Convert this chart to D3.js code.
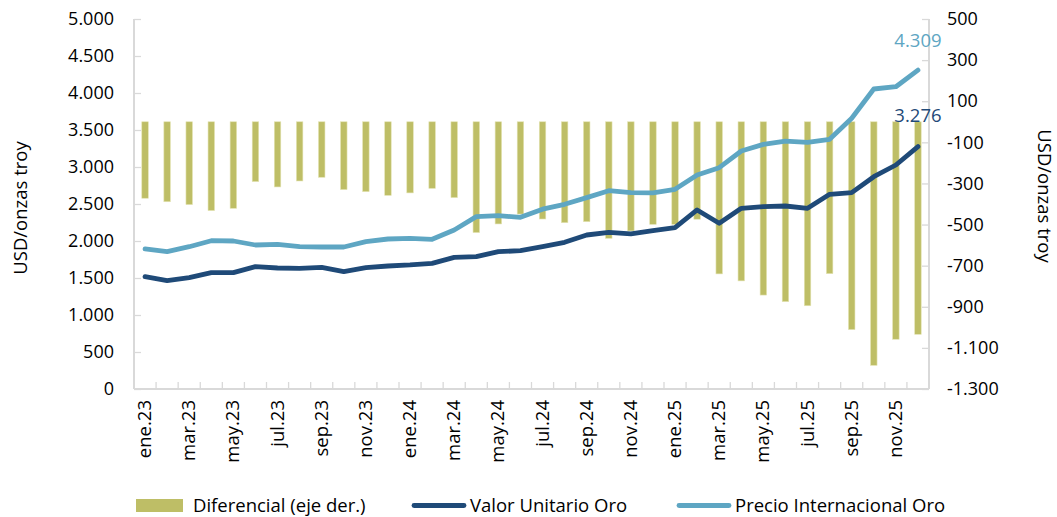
<!DOCTYPE html>
<html>
<head>
<meta charset="utf-8">
<script src="https://cdn.jsdelivr.net/npm/d3@7"></script>
<style>
  html, body { margin: 0; padding: 0; background: #fff; }
  svg { display: block; }
  text { font-family: "Open Sans", sans-serif; fill: #000; }
</style>
</head>
<body>
<svg id="chart" width="1057" height="517"></svg>
<script>
const months = ["ene.23","feb.23","mar.23","abr.23","may.23","jun.23","jul.23","ago.23","sep.23","oct.23","nov.23","dic.23",
                "ene.24","feb.24","mar.24","abr.24","may.24","jun.24","jul.24","ago.24","sep.24","oct.24","nov.24","dic.24",
                "ene.25","feb.25","mar.25","abr.25","may.25","jun.25","jul.25","ago.25","sep.25","oct.25","nov.25","dic.25"];
const valorUnitario = [1518,1464,1504,1572,1572,1653,1635,1631,1644,1585,1640,1662,
                       1676,1698,1779,1788,1856,1869,1923,1982,2081,2117,2095,2140,
                       2180,2419,2239,2442,2464,2473,2442,2631,2653,2869,3027,3276];
const precioInternacional = [1892,1856,1923,2004,2000,1946,1955,1923,1919,1919,1991,2027,
                             2036,2023,2149,2329,2342,2320,2430,2496,2586,2680,2653,2649,
                             2698,2892,2991,3216,3306,3351,3333,3374,3658,4054,4085,4309];
const diferencial = [-372,-389,-403,-432,-421,-291,-317,-288,-270,-330,-340,-358,
                     -346,-324,-369,-539,-497,-449,-473,-491,-486,-567,-531,-499,
                     -499,-474,-740,-774,-843,-875,-895,-739,-1011,-1185,-1058,-1034];
const leftTicks = [0,500,1000,1500,2000,2500,3000,3500,4000,4500,5000];
const rightTicks = [-1300,-1100,-900,-700,-500,-300,-100,100,300,500];
const legendLabels = ["Diferencial (eje der.)","Valor Unitario Oro","Precio Internacional Oro"];
const axisTitle = "USD/onzas troy";

const C_BAR = "#BEBE66", C_DARK = "#1F4A78", C_LIGHT = "#5EA6C3", C_AXIS = "#D9D9D9";
const fmt = d3.formatLocale({decimal: ",", thousands: ".", grouping: [3], currency: ["", ""], minus: "-"}).format(",d");

const svg = d3.select("#chart");
const L = 134, R = 929, T = 19, B = 389;

const x = d3.scaleBand().domain(months).range([L, R]).paddingInner(0).paddingOuter(0);
const yL = d3.scaleLinear().domain([0, 5000]).range([B, T]);
const yR = d3.scaleLinear().domain([-1300, 500]).range([B, T]);
const cx = m => x(m) + x.bandwidth() / 2;

// bars
const barW = 6.5;
svg.append("g").selectAll("rect").data(months).join("rect")
  .attr("x", d => cx(d) - barW / 2)
  .attr("y", (d, i) => Math.min(yR(0), yR(diferencial[i])))
  .attr("width", barW)
  .attr("height", (d, i) => Math.abs(yR(diferencial[i]) - yR(0)))
  .attr("fill", C_BAR)
  .attr("stroke", "#E4E4B4").attr("stroke-width", 0.6);

// axes
const axL = d3.axisLeft(yL).tickValues(leftTicks).tickSize(-7).tickPadding(20).tickFormat(fmt);
const gL = svg.append("g").attr("transform", `translate(${L},0)`).call(axL);
const axR = d3.axisRight(yR).tickValues(rightTicks).tickSize(-7).tickPadding(18).tickFormat(fmt);
const gR = svg.append("g").attr("transform", `translate(${R},0)`).call(axR);
const axB = d3.axisBottom(x).tickValues([]).tickSize(0);
const gB = svg.append("g").attr("transform", `translate(0,${B})`).call(axB);
// boundary ticks on x axis
gB.selectAll("line.bt").data(d3.range(months.length + 1)).join("line")
  .attr("class", "bt")
  .attr("x1", k => L + k * x.step()).attr("x2", k => L + k * x.step())
  .attr("y1", 0).attr("y2", -7)
  .attr("stroke", C_AXIS).attr("stroke-width", 1.3);

[gL, gR, gB].forEach(g => {
  g.select(".domain").attr("stroke", C_AXIS).attr("stroke-width", 2);
  g.selectAll(".tick line").attr("stroke", C_AXIS).attr("stroke-width", 1.3);
  g.selectAll(".tick text").attr("font-family", "Open Sans").attr("font-size", 18).attr("fill", "#000");
});
gL.select(".domain").attr("d", `M0,${T}V${B}`);
gR.select(".domain").attr("d", `M0,${T}V${B}`);
gB.select(".domain").attr("d", `M${L},0H${R}`);
gL.selectAll(".tick text").attr("text-anchor", "end").attr("dx", 0);
gR.selectAll(".tick text").attr("text-anchor", "start");

// x labels (every other month)
svg.append("g").selectAll("text").data(months.filter((d, i) => i % 2 === 0)).join("text")
  .attr("transform", d => `translate(${cx(d) + 6},${B + 11}) rotate(-90)`)
  .attr("text-anchor", "end")
  .attr("font-size", 18.5)
  .text(d => d);

// lines
const lineGen = arr => d3.line().x((d, i) => cx(months[i])).y(d => yL(d))(arr);
svg.append("path").attr("d", lineGen(valorUnitario))
  .attr("fill", "none").attr("stroke", C_DARK).attr("stroke-width", 4.8)
  .attr("stroke-linejoin", "round").attr("stroke-linecap", "round");
svg.append("path").attr("d", lineGen(precioInternacional))
  .attr("fill", "none").attr("stroke", C_LIGHT).attr("stroke-width", 4.8)
  .attr("stroke-linejoin", "round").attr("stroke-linecap", "round");

// end labels
const last = months.length - 1;
svg.append("text").attr("x", cx(months[last])).attr("y", yL(precioInternacional[last]) - 23)
  .attr("text-anchor", "middle").attr("font-size", 18.5).style("fill", C_LIGHT)
  .text(fmt(precioInternacional[last]));
svg.append("text").attr("x", cx(months[last])).attr("y", yL(valorUnitario[last]) - 24.5)
  .attr("text-anchor", "middle").attr("font-size", 18.5).style("fill", C_DARK)
  .text(fmt(valorUnitario[last]));

// axis titles
svg.append("text").attr("transform", `translate(27,208) rotate(-90)`)
  .attr("text-anchor", "middle").attr("font-size", 18.5).text(axisTitle);
svg.append("text").attr("transform", `translate(1038,196) rotate(90)`)
  .attr("text-anchor", "middle").attr("font-size", 18.5).text(axisTitle);

// legend
const lg = svg.append("g");
lg.append("rect").attr("x", 136).attr("y", 499).attr("width", 47).attr("height", 13).attr("fill", C_BAR);
lg.append("text").attr("x", 193).attr("y", 512).attr("font-size", 18.5).text(legendLabels[0]);
lg.append("line").attr("x1", 414).attr("x2", 464).attr("y1", 505.5).attr("y2", 505.5)
  .attr("stroke", C_DARK).attr("stroke-width", 4.8).attr("stroke-linecap", "round");
lg.append("text").attr("x", 470).attr("y", 512).attr("font-size", 18.5).text(legendLabels[1]);
lg.append("line").attr("x1", 679).attr("x2", 729).attr("y1", 505.5).attr("y2", 505.5)
  .attr("stroke", C_LIGHT).attr("stroke-width", 4.8).attr("stroke-linecap", "round");
lg.append("text").attr("x", 735).attr("y", 512).attr("font-size", 18.5).text(legendLabels[2]);
</script>
</body>
</html>
